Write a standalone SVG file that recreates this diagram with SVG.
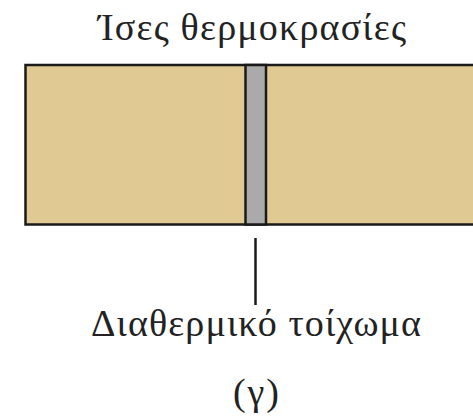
<svg xmlns="http://www.w3.org/2000/svg" width="473" height="417" viewBox="0 0 473 417">
<style>
text{font-family:"Liberation Serif","DejaVu Serif",serif;font-size:38px;fill:#222;text-anchor:middle}
.s{stroke:#1a1a1a;stroke-width:2.5}
</style>
<rect width="473" height="417" fill="#fff"/>
<g id="chamber">
<rect class="s" x="25.5" y="65" width="460" height="159.5" fill="#e0c992"/>
</g>
<g id="wall">
<rect class="s" x="245.5" y="65" width="20.5" height="159.5" fill="#aaaaaa"/>
</g>
<g id="connectors">
<line class="s" x1="255.5" y1="238" x2="255.5" y2="305"/>
</g>
<g id="labels">
<text x="252" y="40" textLength="308" lengthAdjust="spacing">Ίσες θερμοκρασίες</text>
<text x="256" y="336" textLength="330" lengthAdjust="spacing">Διαθερμικό τοίχωμα</text>
<text x="256" y="405" textLength="46" lengthAdjust="spacing">(γ)</text>
</g>
</svg>
